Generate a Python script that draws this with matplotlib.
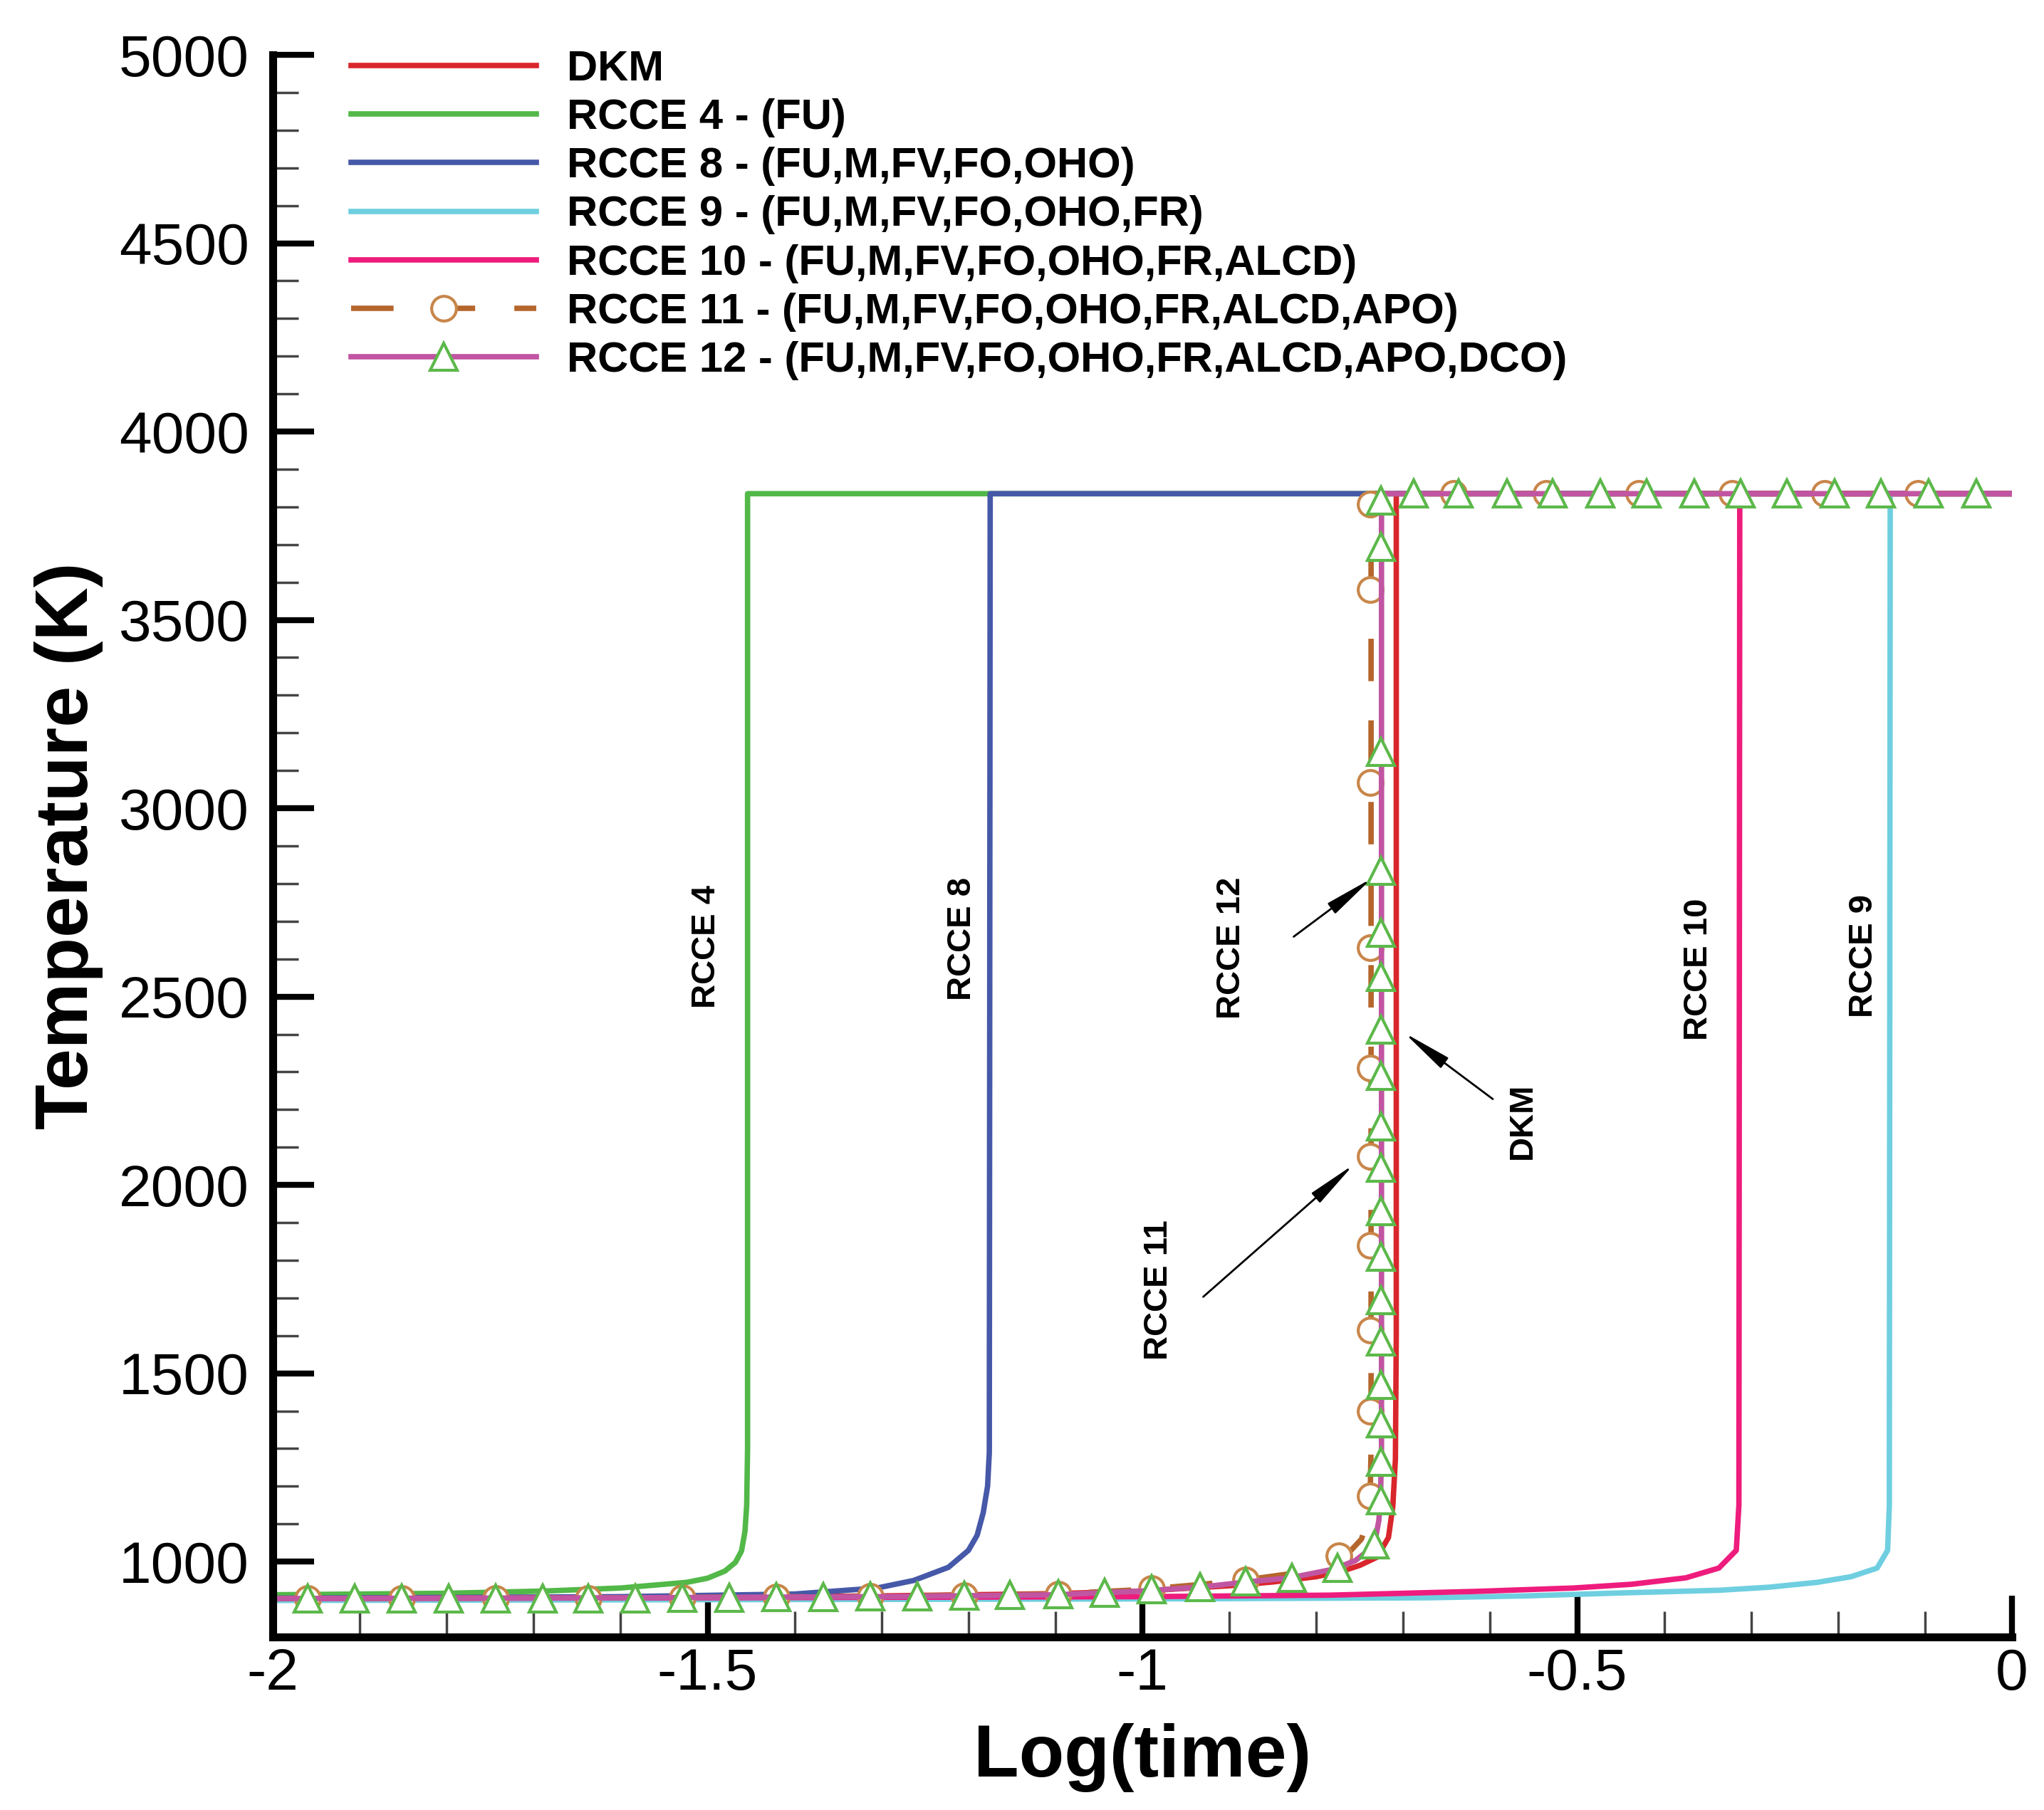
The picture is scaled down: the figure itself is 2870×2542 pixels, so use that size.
"""Temperature vs log(time): DKM against the RCCE constraint sets."""

import matplotlib
matplotlib.use("Agg")
import matplotlib.pyplot as plt
from matplotlib.lines import Line2D

plt.rcParams["font.family"] = ["Liberation Sans", "DejaVu Sans"]

# ---------------------------------------------------------------------------
# Data (x = log10(time), T in K)
# ---------------------------------------------------------------------------

DKM_X = [-2.0, -1.6, -1.3, -1.1, -1.0, -0.9, -0.85, -0.8, -0.77, -0.75, -0.73,
         -0.717, -0.712, -0.709, -0.708, -0.708, 0.0]
DKM_T = [900, 904, 909, 915, 922, 936, 946, 960, 975, 990, 1012,
         1064, 1146, 1272, 1600, 3835, 3835]

R4_X = [-2.0, -1.8, -1.687, -1.6, -1.524, -1.50, -1.48, -1.468, -1.461, -1.457,
        -1.455, -1.454, -1.454, 0.0]
R4_T = [912, 916, 922, 930, 945, 956, 975, 998, 1028, 1080,
        1150, 1300, 3835, 3835]

R8_X = [-2.0, -1.6, -1.4, -1.305, -1.263, -1.223, -1.20, -1.19, -1.183, -1.178,
        -1.176, -1.175, 0.0]
R8_T = [903, 907, 914, 930, 950, 985, 1030, 1070, 1130, 1200,
        1290, 3835, 3835]

R9_X = [-2.0, -1.5, -1.0, -0.672, -0.560, -0.448, -0.337, -0.280, -0.224, -0.185,
        -0.155, -0.143, -0.141, -0.140, 0.0]
R9_T = [897, 899, 901, 904, 909, 917, 924, 932, 945, 960,
        983, 1030, 1150, 3835, 3835]

R10_X = [-2.0, -1.5, -1.0, -0.784, -0.616, -0.504, -0.437, -0.375, -0.337, -0.317,
         -0.314, -0.313, 0.0]
R10_T = [902, 904, 907, 911, 921, 930, 940, 957, 983, 1030,
         1150, 3835, 3835]

R11_X = [-2.0, -1.6, -1.3, -1.1, -1.0, -0.93, -0.88, -0.83, -0.80, -0.775, -0.76,
         -0.748, -0.741, -0.738, -0.737, -0.737, 0.0]
R11_T = [902, 904, 908, 914, 926, 940, 952, 968, 985, 1012, 1030,
         1060, 1110, 1180, 1300, 3835, 3835]

R12_X = [-2.0, -1.6, -1.3, -1.1, -1.0, -0.93, -0.88, -0.83, -0.78, -0.755, -0.74,
         -0.732, -0.728, -0.726, -0.725, -0.725, 0.0]
R12_T = [902, 904, 907, 912, 922, 933, 946, 957, 980, 1003, 1030,
         1060, 1110, 1180, 1300, 3835, 3835]

# symbol positions (circles on RCCE 11, triangles on RCCE 12)
R11_MX = [-1.960, -1.852, -1.744, -1.637, -1.529, -1.421, -1.313, -1.205, -1.097,
          -0.989, -0.881, -0.774,
          -0.738, -0.738, -0.738, -0.738, -0.738, -0.738, -0.738, -0.738, -0.738,
          -0.738,
          -0.642, -0.536, -0.429, -0.322, -0.215, -0.108]
R11_MT = [902, 902, 903, 903, 904, 905, 907, 909, 913,
          928, 952, 1015,
          1174, 1399, 1614, 1839, 2075, 2311, 2629, 3069, 3581,
          3807,
          3835, 3835, 3835, 3835, 3835, 3835]

R12_MX = [-1.960, -1.906, -1.852, -1.798, -1.744, -1.690, -1.637, -1.583, -1.529,
          -1.475, -1.421, -1.367, -1.313, -1.259, -1.205, -1.152, -1.097, -1.043,
          -0.989, -0.934, -0.881, -0.828, -0.776, -0.733,
          -0.726, -0.726, -0.726, -0.726, -0.726, -0.726, -0.726, -0.726, -0.726,
          -0.726, -0.726, -0.726, -0.726, -0.726, -0.726, -0.726, -0.726, -0.726,
          -0.688, -0.636, -0.581, -0.528, -0.473, -0.420, -0.365, -0.312, -0.259,
          -0.204, -0.151, -0.096, -0.041]
R12_MT = [902, 902, 902, 902, 903, 903, 903, 903, 904,
          904, 905, 906, 907, 908, 909, 911, 913, 918,
          926, 932, 947, 957, 983, 1045,
          1162, 1265, 1367, 1470, 1584, 1695, 1809, 1931, 2045,
          2156, 2290, 2413, 2553, 2670, 2833, 3150, 3694, 3817,
          3835, 3835, 3835, 3835, 3835, 3835, 3835, 3835, 3835,
          3835, 3835, 3835, 3835]

LABELS = [
    "DKM",
    "RCCE 4 - (FU)",
    "RCCE 8 - (FU,M,FV,FO,OHO)",
    "RCCE 9 - (FU,M,FV,FO,OHO,FR)",
    "RCCE 10 - (FU,M,FV,FO,OHO,FR,ALCD)",
    "RCCE 11 - (FU,M,FV,FO,OHO,FR,ALCD,APO)",
    "RCCE 12 - (FU,M,FV,FO,OHO,FR,ALCD,APO,DCO)",
]

X_TICKS = [-2.0, -1.5, -1.0, -0.5, 0.0]
X_TICK_LABELS = ["-2", "-1.5", "-1", "-0.5", "0"]
Y_TICKS = [1000, 1500, 2000, 2500, 3000, 3500, 4000, 4500, 5000]

# in-plot captions: (text, x, T)
CURVE_TAGS = [
    ("RCCE 4", -1.501, 2632),
    ("RCCE 8", -1.207, 2653),
    ("RCCE 12", -0.898, 2629),
    ("RCCE 11", -0.981, 1722),
    ("DKM", -0.563, 2169),
    ("RCCE 10", -0.360, 2572),
    ("RCCE 9", -0.170, 2608),
]
# arrows: (head x, head T, tail x, tail T)
ARROWS = [
    (-0.736, 2814, -0.826, 2659),
    (-0.757, 2054, -0.930, 1703),
    (-0.699, 2404, -0.597, 2228),
]

# ---------------------------------------------------------------------------
# Styles
# ---------------------------------------------------------------------------

C_DKM = "#d9262c"
C_R4 = "#52b848"
C_R8 = "#4658a8"
C_R9 = "#6fcfe0"
C_R10 = "#ee1c7d"
C_R11 = "#b5662c"
C_R11_MK = "#c8864a"
C_R12 = "#c155a2"
C_R12_MK = "#5cb84a"
LW = 5.5
R11_DASH = (7.8, 7.2)

W, H, DPI = 2870, 2542, 100
fig = plt.figure(figsize=(W / DPI, H / DPI), dpi=DPI)
ax = fig.add_axes([383 / W, 1 - 2299 / H, (2825 - 383) / W, (2299 - 77) / H])

ax.plot(DKM_X, DKM_T, color=C_DKM, lw=LW)
ax.plot(R4_X, R4_T, color=C_R4, lw=LW)
ax.plot(R8_X, R8_T, color=C_R8, lw=LW)
ax.plot(R9_X, R9_T, color=C_R9, lw=LW)
ax.plot(R10_X, R10_T, color=C_R10, lw=LW)
ax.plot(R11_X, R11_T, color=C_R11, lw=LW, dashes=R11_DASH)
ax.plot(R11_MX, R11_MT, ls="none", marker="o", ms=25, mfc="white",
        mec=C_R11_MK, mew=3)
ax.plot(R12_X, R12_T, color=C_R12, lw=LW)
ax.plot(R12_MX, R12_MT, ls="none", marker="^", ms=27, mfc="white",
        mec=C_R12_MK, mew=3)

for text, x, t in CURVE_TAGS:
    ax.text(x, t, text, rotation=90, ha="center", va="center",
            fontsize=34, fontweight="bold")

for hx, ht, tx, tt in ARROWS:
    ax.annotate("", xy=(hx, ht), xytext=(tx, tt),
                arrowprops=dict(arrowstyle="-|>,head_length=1.7,head_width=0.22",
                                color="black", lw=2, shrinkA=0, shrinkB=0,
                                mutation_scale=25))

# legend (proxy handles carry the styles only)
handles = [
    Line2D([], [], color=C_DKM, lw=LW),
    Line2D([], [], color=C_R4, lw=LW),
    Line2D([], [], color=C_R8, lw=LW),
    Line2D([], [], color=C_R9, lw=LW),
    Line2D([], [], color=C_R10, lw=LW),
    Line2D([], [], color=C_R11, lw=LW, dashes=R11_DASH, marker="o", ms=25,
           mfc="white", mec=C_R11_MK, mew=3),
    Line2D([], [], color=C_R12, lw=LW, marker="^", ms=27, mfc="white",
           mec=C_R12_MK, mew=3),
]
ax.legend(handles, LABELS, loc="upper left",
          bbox_to_anchor=(493 / W, 1 - 70 / H), bbox_transform=fig.transFigure,
          frameon=False, prop={"size": 43, "weight": "bold"}, numpoints=1,
          handlelength=4.35, handletextpad=0.72, labelspacing=0.22,
          borderpad=0, borderaxespad=0)

# axes
ax.set_xlim(-2, 0)
ax.set_ylim(800, 5000)
ax.set_xticks(X_TICKS, X_TICK_LABELS)
ax.set_yticks(Y_TICKS)
ax.set_xticks([v / 10 for v in range(-20, 1)], minor=True)
ax.set_yticks(list(range(800, 5001, 100)), minor=True)
for side in ("top", "right"):
    ax.spines[side].set_visible(False)
for side in ("left", "bottom"):
    ax.spines[side].set_linewidth(8)
ax.tick_params(which="major", direction="in", length=42, width=6,
               labelsize=59)
ax.tick_params(which="minor", direction="in", length=26, width=2.5,
               color="#444444")
ax.tick_params(axis="x", which="major", pad=11)
ax.tick_params(axis="y", which="major", pad=24)

ax.set_xlabel("Log(time)", fontsize=75, fontweight="bold")
ax.set_ylabel("Temperature (K)", fontsize=75, fontweight="bold")
ax.xaxis.set_label_coords(0.5, -(2420 - 2299) / (2299 - 77))
ax.yaxis.set_label_coords(-(383 - 145) / (2825 - 383), 0.5)

fig.savefig("out.png", dpi=DPI)
plt.close(fig)
